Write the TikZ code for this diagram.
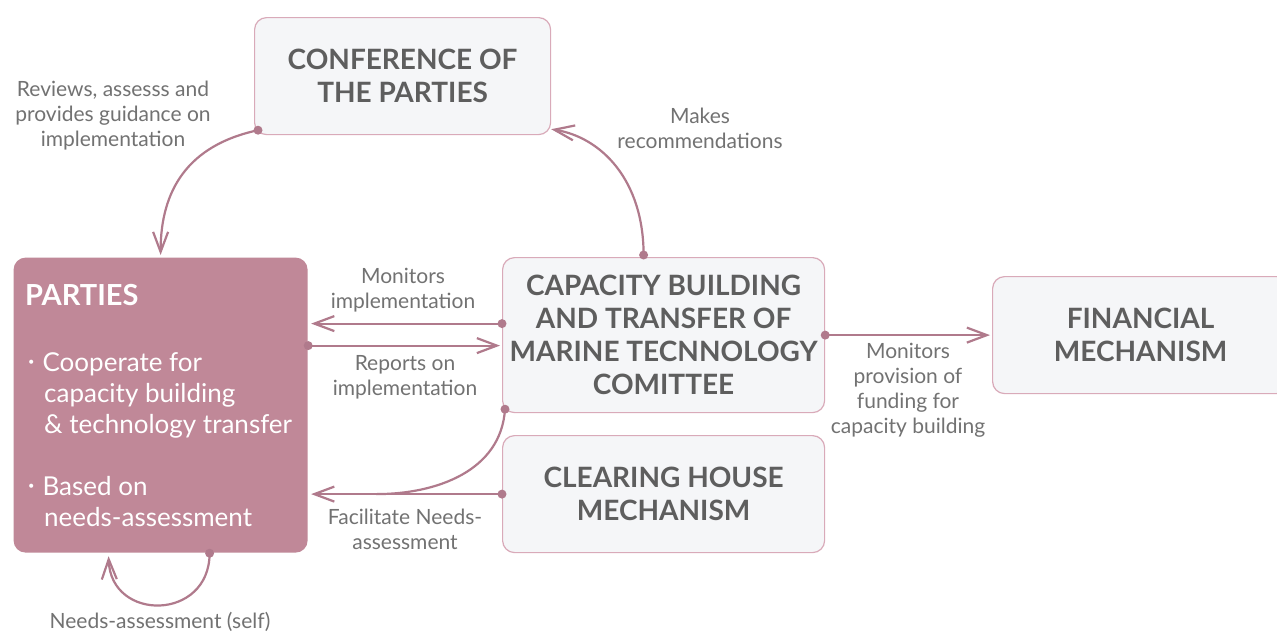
\documentclass[tikz,border=0pt]{standalone}
\usepackage{fontspec}
\setmainfont{Lato}
\usetikzlibrary{arrows.meta,calc}
\definecolor{conncol}{HTML}{B07A8C}
\definecolor{pfill}{HTML}{C08898}
\definecolor{bord}{HTML}{D9AAB9}
\definecolor{bfill}{HTML}{F5F6F8}
\definecolor{ttext}{HTML}{5E5E5E}
\definecolor{ltext}{HTML}{727272}
\newcommand{\smallbul}{\raisebox{6pt}{\fontsize{11}{11}\selectfont\textbullet}\hspace{8pt}}
\tikzset{
  box/.style={draw=bord, fill=bfill, line width=1.2pt, rounded corners=12pt, anchor=north west, inner sep=0pt},
  title/.style={text=ttext, font=\bfseries\fontsize{28}{33}\selectfont, align=center},
  lbl/.style={text=ltext, font=\fontsize{21}{25}\selectfont, align=center, inner sep=0pt},
  conn/.style={draw=conncol, line width=2.2pt, line cap=round, -{Straight Barb[length=20pt,width=15pt,line width=2.2pt]}},
  plain/.style={draw=conncol, line width=2.2pt, line cap=round},
  wtext/.style={text=white, anchor=north west, inner sep=0pt, align=left}
}
\begin{document}
\begin{tikzpicture}[x=1pt,y=-1pt]
\useasboundingbox (0,0) rectangle (1277,633);
\fill[white] (0,0) rectangle (1277,633);
% boxes
\node[box, minimum width=296pt, minimum height=117pt, title] (cop) at (254,17) {CONFERENCE OF\\THE PARTIES};
\node[box, fill=pfill, draw=none, minimum width=294pt, minimum height=295pt] (parties) at (13,257) {};
\node[box, minimum width=322pt, minimum height=155pt, title] (cbt) at (502,257) {CAPACITY BUILDING\\AND TRANSFER OF\\MARINE TECNNOLOGY\\COMITTEE};
\node[box, minimum width=296pt, minimum height=117pt, title] (fin) at (992,276) {FINANCIAL\\MECHANISM};
\node[box, minimum width=322pt, minimum height=117pt, title] (chm) at (502,435) {CLEARING HOUSE\\MECHANISM};
% parties text
\node[wtext, font=\bfseries\fontsize{29}{31}\selectfont] (ptitle) at (25,284) {PARTIES};
\node[wtext, font=\fontsize{26}{31}\selectfont] (pitem1) at (28,352) {\smallbul Cooperate for\\\hspace*{16pt}capacity building\\\hspace*{16pt}\& technology transfer};
\node[wtext, font=\fontsize{26}{31}\selectfont] (pitem2) at (28,476) {\smallbul Based on\\\hspace*{16pt}needs-assessment};
% labels
\node[lbl] (lrev) at (113,116) {Reviews, assesss and\\provides guidance on\\implementation};
\node[lbl] (lmak) at (700,128) {Makes\\recommendations};
\node[lbl] (lmon) at (403,290) {Monitors\\implementation};
\node[lbl] (lrep) at (405,377) {Reports on\\implementation};
\node[lbl] (lfac) at (405,529) {Facilitate Needs-\\assessment};
\node[lbl] (lfund) at (908,390) {Monitors\\provision of\\funding for\\capacity building};
\node[lbl] (lself) at (160,622) {Needs-assessment (self)};
% connectors
\draw[conn] ([shift={(4,-5)}]cop.south west) coordinate (s1) .. controls +(-70,15) and +(0,-65) .. ([shift={(0,-2)}]parties.north);
\draw[conn] ([shift={(-20,-2)}]cbt.north) coordinate (s2) .. controls +(0,-75) and +(50,8) .. ([shift={(0,-6)}]cop.south east);
\draw[conn] ([shift={(0,-11.5)}]cbt.west) coordinate (s3) -- ([xshift=3pt]s3 -| parties.east);
\draw[conn] ([shift={(0,-59.5)}]parties.east) coordinate (s4) -- ([xshift=-2pt]s4 -| cbt.west);
\draw[conn] (chm.west) coordinate (s5) -- ([xshift=3pt]s5 -| parties.east);
\draw[plain] ([shift={(3,-4)}]cbt.south west) coordinate (s6) .. controls +(-4,62) and +(60,0) .. ($(chm.west -| parties.east)+(68,0)$);
\draw[conn] (cbt.east) coordinate (s7) -- ([xshift=-2pt]fin.west);
\draw[conn] ([xshift=49pt]parties.south) coordinate (s8) .. controls +(0,68) and +(2,66) .. ([shift={(-52,3)}]parties.south);
\foreach \s in {s1,s2,s3,s4,s5,s6,s7,s8} \fill[conncol] (\s) circle (4.5pt);
\end{tikzpicture}
\end{document}
